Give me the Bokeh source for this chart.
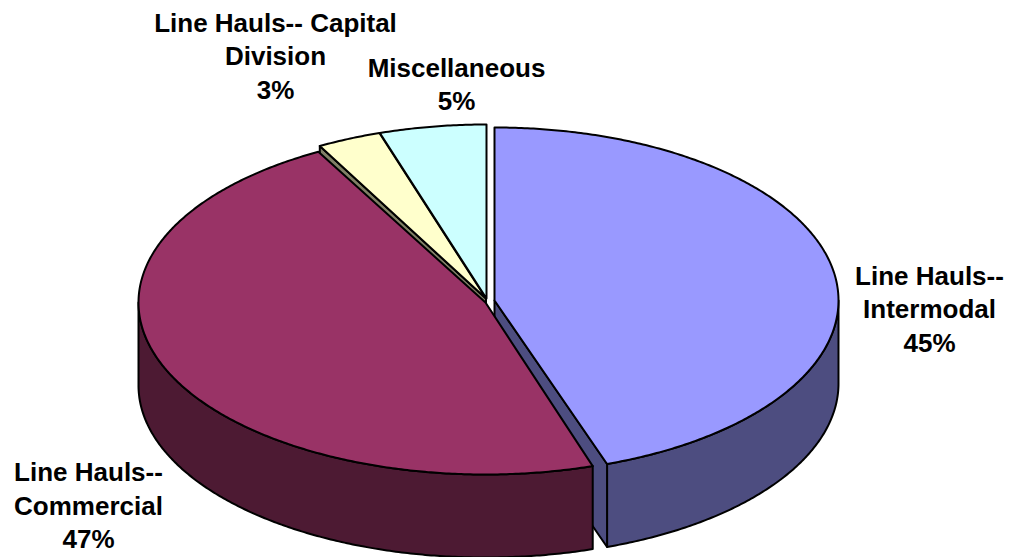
import math
from bokeh.plotting import figure
from bokeh.models import Range1d
from bokeh.core.properties import value
from bokeh.embed import file_html
from bokeh.resources import INLINE

# data
categories = ["Line Hauls--\nIntermodal", "Line Hauls--\nCommercial", "Line Hauls-- Capital\nDivision", "Miscellaneous"]
shares = [45, 47, 3, 5]
label_anchor_x = [929, 88, 275, 456]
label_first_y = [275, 471.5, 22, 67]

# style
top_colors = ["#9999FF", "#993366", "#FFFFCC", "#CCFFFF"]
side_colors = ["#4D4D80", "#4D1A33", "#808066", "#668080"]
centers = [(494, 300), (485, 302), (485.5, 298), (486, 298)]
radii = [(344, 173), (347, 172), (345, 174), (345, 174)]
depth = 83
LW = 2
LINE_GAP = 33.6
EDGE_INSET = 1.1  # the first slice's closing edge sits a little short of its share

W, H = 1010, 557
p = figure(width=W, height=H, output_backend="svg", toolbar_location=None,
           x_range=Range1d(0, W), y_range=Range1d(H, 0), min_border=0)
p.axis.visible = False
p.grid.visible = False
p.outline_line_color = None

# cumulative angles, clockwise from twelve o'clock
total = sum(shares)
bounds = [0.0]
for s in shares:
    bounds.append(bounds[-1] + 360.0 * s / total)
first_end = bounds[1] - EDGE_INSET


def rim(i, a):
    cx, cy = centers[i]
    rx, ry = radii[i]
    t = math.radians(a)
    return cx + rx * math.sin(t), cy - ry * math.cos(t)


def arc(i, a0, a1):
    n = max(2, int(abs(a1 - a0) * 2))
    return [rim(i, a0 + (a1 - a0) * k / n) for k in range(n + 1)]


def shape(pts, color):
    p.patch([q[0] for q in pts], [q[1] for q in pts], fill_color=color,
            line_color="black", line_width=LW, line_join="round")


def top(i, a0, a1):
    shape([centers[i]] + arc(i, a0, a1), top_colors[i])


def down(pts):
    return [(x, y + depth) for x, y in pts]


# cut face of the small slice, then its neighbours' tops
face = [centers[2], rim(2, bounds[2])]
shape(face + down(face)[::-1], side_colors[2])
top(2, bounds[2], bounds[3])
top(3, bounds[3], bounds[4])

# first slice: rim wall, cut face, top
wall = arc(0, 90, first_end)
shape(wall + down(wall)[::-1], side_colors[0])
face = [centers[0], rim(0, first_end)]
shape(face + down(face)[::-1], side_colors[0])
top(0, bounds[0], first_end)

# second slice: rim wall, top
wall = arc(1, bounds[1], 270)
shape(wall + down(wall)[::-1], side_colors[1])
top(1, bounds[1], bounds[2])

# labels
xs, ys, texts = [], [], []
for name, s, x, y in zip(categories, shares, label_anchor_x, label_first_y):
    lines = name.split("\n") + [f"{s}%"]
    for k, line in enumerate(lines):
        xs.append(x)
        ys.append(y + k * LINE_GAP)
        texts.append(line)
p.text(xs, ys, texts, text_font=value("Liberation Sans"), text_font_style="bold",
       text_font_size="26px", text_color="black", text_align="center", text_baseline="middle")

open("out.html", "w").write(file_html(p, INLINE))
